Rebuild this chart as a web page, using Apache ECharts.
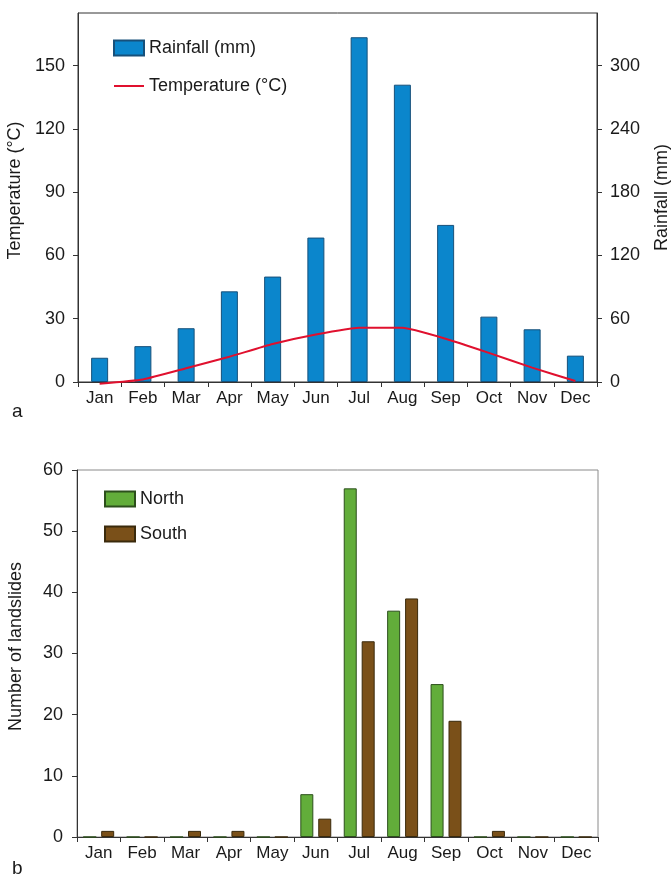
<!DOCTYPE html>
<html>
<head>
<meta charset="utf-8">
<script src="https://cdn.jsdelivr.net/npm/echarts@6/dist/echarts.min.js"></script>
<style>
html,body{margin:0;padding:0;background:#fff;}
#chart{width:671px;height:877px;}
</style>
</head>
<body>
<div id="chart"></div>
<script>
var months = ['Jan','Feb','Mar','Apr','May','Jun','Jul','Aug','Sep','Oct','Nov','Dec'];
var rainfall = [23, 34, 51, 86, 100, 137, 327, 282, 149, 62, 50, 25];
var temperature = [-0.8, 1.2, 6.5, 12.0, 18.0, 22.5, 25.7, 25.7, 20.5, 13.8, 6.8, 0.5];
var northSlides = [0, 0, 0, 0, 0, 7, 57, 37, 25, 0, 0, 0];
var southSlides = [1, 0, 1, 1, 0, 3, 32, 39, 19, 1, 0, 0];
var tempTicks = [0, 30, 60, 90, 120, 150];
var rainTicks = [0, 60, 120, 180, 240, 300];

var FONT = '"Liberation Sans", Arial, sans-serif';
var TXT = '#1a1a1a';
var AX = '#333';

var chart = echarts.init(document.getElementById('chart'), null, {renderer: 'canvas'});

function catAxis(gridIndex) {
  return {
    type: 'category', gridIndex: gridIndex, data: months, boundaryGap: true,
    axisLine: {show: true, lineStyle: {color: AX, width: 1}},
    axisTick: {show: true, alignWithLabel: false, length: 5, lineStyle: {color: AX}},
    axisLabel: {color: TXT, fontFamily: FONT, fontSize: 17, margin: 8, interval: 0},
    splitLine: {show: false}
  };
}

var option = {
  animation: false,
  backgroundColor: '#fff',
  textStyle: {fontFamily: FONT},
  grid: [
    {left: 78, right: 74, top: 13, height: 369, show: true, borderColor: AX, borderWidth: 1,
     backgroundColor: 'transparent', outerBoundsMode: 'none', containLabel: false},
    {left: 77, right: 73, top: 470, height: 367, show: true, borderColor: '#8a8a8a', borderWidth: 1,
     backgroundColor: 'transparent', outerBoundsMode: 'none', containLabel: false}
  ],
  legend: [
    {
      orient: 'vertical', left: 108, top: 34, itemWidth: 30, itemHeight: 15, itemGap: 20,
      textStyle: {color: TXT, fontFamily: FONT, fontSize: 18},
      data: [
        {name: 'Rainfall (mm)', icon: 'rect'},
        {name: 'Temperature (°C)', itemStyle: {opacity: 0, borderWidth: 0}}
      ]
    },
    {
      orient: 'vertical', left: 99, top: 485, itemWidth: 30, itemHeight: 15, itemGap: 17,
      textStyle: {color: TXT, fontFamily: FONT, fontSize: 18},
      data: [{name: 'North', icon: 'rect'}, {name: 'South', icon: 'rect'}]
    }
  ],
  xAxis: [catAxis(0), catAxis(1)],
  yAxis: [
    {
      type: 'value', gridIndex: 0, min: 0, max: 175, position: 'left',
      name: 'Temperature (°C)', nameLocation: 'middle', nameGap: 51, nameRotate: 90,
      nameTextStyle: {color: TXT, fontFamily: FONT, fontSize: 18, padding: [0, 0, 0, 14]},
      axisLine: {show: true, lineStyle: {color: AX}},
      axisTick: {show: true, length: 5, lineStyle: {color: AX}, customValues: tempTicks},
      axisLabel: {color: TXT, fontFamily: FONT, fontSize: 18, margin: 13, customValues: tempTicks},
      splitLine: {show: false}
    },
    {
      type: 'value', gridIndex: 0, min: 0, max: 350, position: 'right',
      name: 'Rainfall (mm)', nameLocation: 'middle', nameGap: 56, nameRotate: 90,
      nameTextStyle: {color: TXT, fontFamily: FONT, fontSize: 18},
      axisLine: {show: true, lineStyle: {color: AX}},
      axisTick: {show: true, length: 5, lineStyle: {color: AX}, customValues: rainTicks},
      axisLabel: {color: TXT, fontFamily: FONT, fontSize: 18, margin: 13, customValues: rainTicks},
      splitLine: {show: false}
    },
    {
      type: 'value', gridIndex: 1, min: 0, max: 60, interval: 10, position: 'left',
      name: 'Number of landslides', nameLocation: 'middle', nameGap: 52, nameRotate: 90,
      nameTextStyle: {color: TXT, fontFamily: FONT, fontSize: 18, padding: [0, 0, 0, 14]},
      axisLine: {show: true, lineStyle: {color: AX}},
      axisTick: {show: true, length: 5, lineStyle: {color: AX}},
      axisLabel: {color: TXT, fontFamily: FONT, fontSize: 18, margin: 14},
      splitLine: {show: false}
    }
  ],
  series: [
    {
      name: 'Rainfall (mm)', type: 'bar', xAxisIndex: 0, yAxisIndex: 1, data: rainfall,
      barWidth: 17,
      itemStyle: {color: '#0b86cc', borderColor: '#17507a', borderWidth: 1}
    },
    {
      name: 'Temperature (°C)', type: 'line', xAxisIndex: 0, yAxisIndex: 0, data: temperature,
      symbol: 'none', smooth: 0.15, clip: false,
      lineStyle: {color: '#e0102e', width: 2},
      itemStyle: {color: '#e0102e'}
    },
    {
      name: 'North', type: 'bar', xAxisIndex: 1, yAxisIndex: 2, data: northSlides,
      barWidth: 13, barGap: '38%',
      itemStyle: {color: '#62ad3a', borderColor: '#2c4f1c', borderWidth: 1}
    },
    {
      name: 'South', type: 'bar', xAxisIndex: 1, yAxisIndex: 2, data: southSlides,
      barWidth: 13, barGap: '38%',
      itemStyle: {color: '#7a5019', borderColor: '#3a2a0c', borderWidth: 1}
    }
  ],
  graphic: [
    {type: 'text', left: 12, top: 402, style: {text: 'a', fill: TXT, font: '19px ' + FONT}},
    {type: 'text', left: 12, top: 859, style: {text: 'b', fill: TXT, font: '19px ' + FONT}}
  ]
};
chart.setOption(option);
</script>
</body>
</html>
